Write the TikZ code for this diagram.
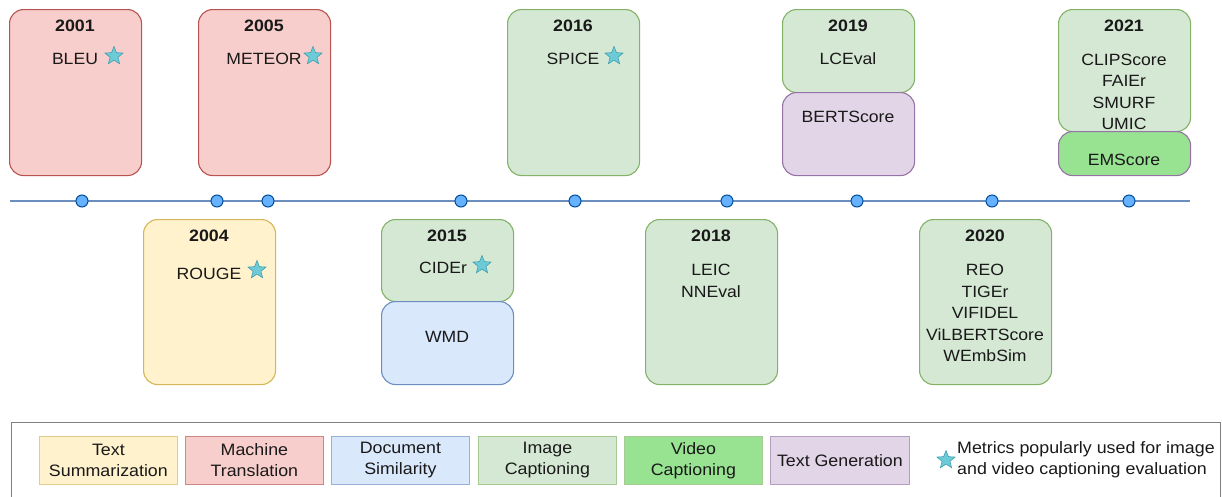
\documentclass[tikz,border=0pt]{standalone}
\usepackage{fontspec}
\setmainfont[FakeStretch=1.08]{Liberation Sans}
\usepackage{xcolor}
\definecolor{mtfill}{HTML}{F8CECC}\definecolor{mtdraw}{HTML}{B85450}
\definecolor{tsfill}{HTML}{FFF2CC}\definecolor{tsdraw}{HTML}{D6B656}
\definecolor{dsfill}{HTML}{DAE8FC}\definecolor{dsdraw}{HTML}{6C8EBF}
\definecolor{icfill}{HTML}{D5E8D4}\definecolor{icdraw}{HTML}{82B366}
\definecolor{vcfill}{HTML}{97E391}
\definecolor{tgfill}{HTML}{E1D5E7}\definecolor{tgdraw}{HTML}{9673A6}
\definecolor{starfill}{HTML}{6CCBD6}\definecolor{stardraw}{HTML}{3E9FB0}
\definecolor{dotfill}{HTML}{66B2FF}\definecolor{dotdraw}{HTML}{004C99}
\usetikzlibrary{positioning,shapes.geometric}
\tikzset{
  ybox/.style ={rectangle, rounded corners=14pt, line width=1.1pt, minimum width=132pt,
                inner sep=0pt, anchor=north west},
  mtbox/.style={ybox, draw=mtdraw, fill=mtfill},
  tsbox/.style={ybox, draw=tsdraw, fill=tsfill},
  dsbox/.style={ybox, draw=dsdraw, fill=dsfill},
  icbox/.style={ybox, draw=icdraw, fill=icfill},
  vcbox/.style={ybox, draw=tgdraw, fill=vcfill},
  tgbox/.style={ybox, draw=tgdraw, fill=tgfill},
  yr/.style   ={font=\fontsize{16.5}{18}\selectfont\bfseries, inner sep=0pt, text=black!90},
  met/.style  ={font=\fontsize{16.3}{21.5}\selectfont, align=center, inner sep=0pt, text=black!90},
  pop/.style  ={star, star points=5, star point ratio=2.3, minimum size=19pt, inner sep=0pt,
                draw=stardraw, fill=starfill, line width=0.6pt},
  tdot/.style ={circle, minimum size=12pt, inner sep=0pt, draw=dotdraw, fill=dotfill, line width=1pt},
  lbox/.style ={rectangle, minimum width=138pt, minimum height=48pt, anchor=north west,
                inner sep=0pt, align=center, line width=0.8pt, text=black!90,
                font=\fontsize{16.5}{21}\selectfont},
}

\begin{document}
\begin{tikzpicture}[x=1pt, y=-1pt]
  \useasboundingbox (0,0) rectangle (1222,496);

  % timeline
  \coordinate (tl0) at (10,201);
  \coordinate (tl1) at (1190,201);
  \draw[dsdraw, line width=1.1pt] (tl0) -- (tl1);
  \foreach \x [count=\i] in {82,217,268,461,575,727,857,992,1129}
    \node[tdot] (d\i) at (\x,201) {};

  % above the line
  \node[mtbox, minimum height=166pt] (b01) at (9,9) {};
  \node[yr] at (75,26) {2001};
  \node[met] (bleu) at (75,59) {BLEU};
  \node[pop] at (114,56) {};

  \node[mtbox, minimum height=166pt] (b05) at (198,9) {};
  \node[yr] at (264,26) {2005};
  \node[met] (meteor) at (264,59) {METEOR};
  \node[pop] at (313,56) {};

  \node[icbox, minimum height=166pt] (b16) at (507,9) {};
  \node[yr] at (573,26) {2016};
  \node[met] (spice) at (573,59) {SPICE};
  \node[pop] at (614,56) {};

  \node[icbox, minimum height=83pt] (b19) at (782,9) {};
  \node[tgbox, minimum height=83pt] (b19b) at (782,92) {};
  \node[yr] at (848,26) {2019};
  \node[met] (lceval) at (848,59) {LCEval};
  \node[met] (bert) at (848,117) {BERTScore};

  \node[icbox, minimum height=122pt] (b21) at (1058,9) {};
  \node[vcbox, minimum height=44pt] (b21b) at (1058,131) {};
  \node[yr] at (1124,26) {2021};
  \node[met] (clip) at (1124,92) {CLIPScore\\FAIEr\\SMURF\\UMIC};
  \node[met] (ems) at (1124,160) {EMScore};

  % below the line
  \node[tsbox, minimum height=165pt] (b04) at (143,219) {};
  \node[yr] at (209,236) {2004};
  \node[met] (rouge) at (209,274) {ROUGE};
  \node[pop] at (257,270) {};

  \node[icbox, minimum height=82pt] (b15) at (381,219) {};
  \node[dsbox, minimum height=83pt] (b15b) at (381,301) {};
  \node[yr] at (447,236) {2015};
  \node[met] (cider) at (443,268) {CIDEr};
  \node[pop] at (482,265) {};
  \node[met] (wmd) at (447,337) {WMD};

  \node[icbox, minimum height=165pt] (b18) at (645,219) {};
  \node[yr] at (711,236) {2018};
  \node[met] (leic) at (711,281) {LEIC\\NNEval};

  \node[icbox, minimum height=165pt] (b20) at (919,219) {};
  \node[yr] at (985,236) {2020};
  \node[met] (reo) at (985,313) {REO\\TIGEr\\VIFIDEL\\ViLBERTScore\\WEmbSim};

  % legend
  \draw[black!50, line width=0.8pt] (11,497) -- (11,422) -- (1220,422) -- (1220,497);
  \node[lbox, draw=tsdraw!70, fill=tsfill] (lts) at (39,436) {Text\\Summarization};
  \node[lbox, draw=mtdraw!70, fill=mtfill] (lmt) at (185,436) {Machine\\Translation};
  \node[lbox, draw=dsdraw!70, fill=dsfill] (lds) at (331,436) {Document\\Similarity};
  \node[lbox, draw=icdraw!70, fill=icfill] (lic) at (478,436) {Image\\Captioning};
  \node[lbox, draw=icdraw!70, fill=vcfill] (lvc) at (624,436) {Video\\Captioning};
  \node[lbox, draw=tgdraw!70, fill=tgfill, minimum width=139pt] (ltg) at (770,436) {Text Generation};
  \node[pop] (lstar) at (946,460) {};
  \node[font=\fontsize{16.5}{21}\selectfont, align=left, anchor=west, inner sep=0pt, text=black!90]
    (lpop) at (957,460) {Metrics popularly used for image\\and video captioning evaluation};
\end{tikzpicture}
\end{document}
